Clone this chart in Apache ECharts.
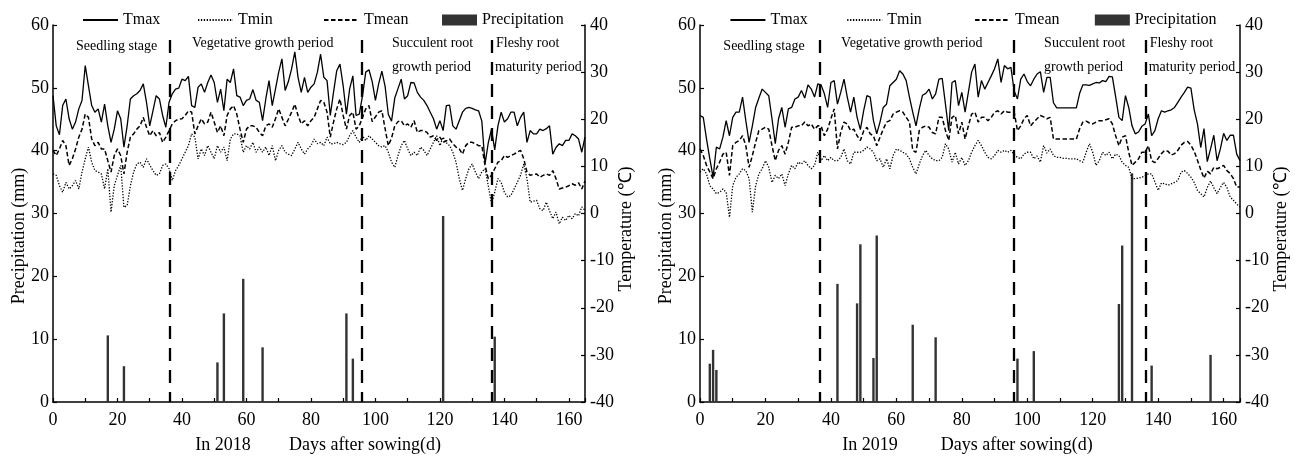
<!DOCTYPE html>
<html><head><meta charset="utf-8">
<script src="https://cdn.jsdelivr.net/npm/echarts@6/dist/echarts.min.js"></script>
<style>html,body{margin:0;padding:0;background:#fff}#c{width:1301px;height:458px}</style>
</head><body><div id="c"></div>
<script>
// ---------- data ----------
const tmax2018 = [25.0,18.6,16.7,22.9,24.3,20.1,17.9,19.4,22.2,24.0,31.4,27.1,22.9,21.5,22.2,19.4,23.2,18.6,15.1,17.9,21.8,20.1,14.1,18.6,24.3,25.0,25.4,26.1,27.5,23.6,18.6,21.8,25.0,24.3,20.8,18.3,23.6,25.4,26.4,26.6,28.5,28.2,29.1,22.9,22.5,26.8,27.5,25.7,27.8,29.4,27.8,23.6,26.4,21.8,
 28.5,27.8,30.7,25.0,24.7,22.9,24.0,24.3,26.3,24.0,23.6,19.7,24.3,28.2,22.9,26.4,30.0,32.8,26.1,28.0,30.7,34.3,28.9,25.7,28.9,25.7,26.8,27.5,30.0,33.8,28.9,28.2,20.8,25.7,30.3,31.7,27.1,21.1,26.4,29.2,
 20.8,21.1,25.0,30.0,30.5,28.0,24.0,27.5,30.2,27.0,21.0,19.6,24.5,26.5,28.5,
 24.3,25.0,27.8,27.7,25.7,24.7,24.0,22.9,21.5,20.1,17.9,19.7,17.6,22.9,23.0,18.6,17.9,19.7,21.5,22.3,22.5,22.3,22.0,21.8,19.6,10.5,15.0,17.9,13.5,18.6,21.5,19.4,20.1,21.5,21.5,18.6,20.4,21.5,15.1,17.6,16.9,16.9,17.9,17.6,18.0,18.6,12.6,14.0,14.8,14.4,15.5,15.5,16.9,16.5,15.8,13.0,16.2];
const tmean2018 = [13.4,12.3,13.7,15.5,14.4,10.2,11.6,13.7,16.2,17.9,21.1,20.4,15.8,14.4,15.1,13.7,13.7,11.2,8.8,12.3,13.7,12.3,8.4,13.0,16.2,16.9,17.9,18.6,20.4,18.3,16.5,17.6,16.5,17.2,15.1,16.2,17.6,19.0,19.7,20.0,20.1,20.8,21.8,21.5,16.9,18.6,20.1,19.0,19.4,21.5,19.4,17.2,18.6,16.5,
 20.8,22.2,22.9,21.1,17.9,15.1,17.9,18.6,18.6,18.3,17.2,16.5,18.6,19.0,18.3,20.1,22.2,20.4,18.6,20.0,21.5,23.2,20.8,19.0,19.7,18.6,19.7,20.4,22.2,24.0,23.6,21.5,16.2,19.4,22.2,24.3,20.8,17.9,20.8,21.5,17.9,18.6,20.4,22.2,22.9,19.5,20.5,21.5,21.8,18.0,14.4,16.0,18.6,19.5,19.7,
 18.6,19.0,18.3,19.7,17.2,17.6,17.6,17.2,16.2,16.5,15.5,16.2,15.1,15.4,15.8,14.8,14.1,13.7,12.6,14.4,15.1,15.1,14.8,14.4,14.4,10.2,7.4,8.1,9.5,10.9,11.2,12.3,11.9,12.3,12.6,13.0,13.4,11.6,8.8,8.1,8.3,8.4,7.7,8.1,8.4,8.1,9.1,7.4,5.2,5.4,5.6,5.9,6.3,6.0,6.5,5.2,6.9];
const tmin2018 = [8.4,8.1,5.9,4.5,6.6,5.2,5.9,7.0,5.2,8.8,
 11.6,14.1,10.9,9.1,8.8,8.4,5.2,9.5,0.3,5.9,
 8.1,10.2,1.3,1.7,5.9,8.8,10.5,10.9,9.8,11.6,
 10.3,9.1,8.1,8.4,10.2,10.5,9.5,7.0,9.1,10.2,
 11.6,13.0,14.4,16.9,16.2,11.6,13.7,12.3,14.4,13.0,
 11.6,14.4,13.0,14.1,11.2,15.8,16.9,16.9,16.5,13.0,
 14.4,13.7,15.1,13.0,14.1,13.0,14.1,12.3,14.4,11.2,
 13.4,14.4,13.0,12.6,12.3,13.7,15.1,13.7,12.6,13.7,
 14.4,15.8,14.8,15.1,14.4,16.2,14.8,14.8,15.1,14.8,
 14.6,15.1,16.5,17.6,16.2,15.1,16.5,15.5,16.5,15.8,
 15.1,14.4,14.1,14.4,13.0,10.9,9.8,12.3,14.4,
 15.5,13.7,12.3,13.0,12.3,14.1,13.4,12.3,13.7,15.1,
 16.5,14.4,16.2,15.0,14.4,13.0,10.9,7.4,4.9,7.4,
 9.5,10.5,8.8,7.4,8.8,9.5,5.9,2.1,4.5,7.4,
 6.6,4.5,3.5,3.8,5.2,6.6,8.1,10.5,7.4,2.4,
 2.6,2.8,1.0,0.6,2.4,0.6,-1.1,0.3,-2.2,-0.8,
 -1.5,-0.4,-1.1,0.0,-0.5,1.4,0.7];
const precipDays2018 = [17,22,51,53,59,65,91,93,121,137];
const precip2018 = [10.6,5.7,6.3,14.1,19.6,8.7,14.1,6.9,29.6,10.4];

const tmax2019 = [20.8,20.4,15.8,11.6,7.7,14.1,13.7,16.2,19.7,16.5,
 20.4,21.5,21.5,24.7,19.7,15.1,18.6,22.5,24.5,26.4,
 25.7,25.0,20.1,14.8,20.1,22.5,18.3,22.2,22.5,24.3,
 24.7,26.1,24.5,27.3,26.4,24.7,27.5,27.3,25.4,22.5,
 27.8,28.2,23.2,25.7,28.5,24.7,21.5,24.7,20.4,
 17.8,21.8,25.0,24.7,19.7,16.9,19.4,22.5,23.2,27.1,27.8,
 28.5,30.3,29.6,28.2,24.7,21.5,18.6,22.2,25.1,25.5,
 26.4,24.3,25.4,28.5,28.7,23.2,17.6,27.8,28.2,22.9,
 25.7,21.5,25.7,30.0,31.7,24.7,28.2,26.4,27.8,29.2,
 30.7,32.8,27.8,31.4,30.7,31.0,26.0,24.3,28.5,29.6,28.0,
 27.1,28.5,29.6,30.1,25.7,28.9,28.9,23.5,22.4,22.4,
 22.4,22.4,22.4,22.4,22.4,25.5,27.3,27.3,27.2,27.5,
 27.8,27.7,28.2,28.0,29.1,29.0,24.8,20.4,19.7,25.0,
 22.5,18.6,16.9,17.3,18.5,19.0,21.1,16.5,17.6,20.1,
 21.8,21.5,21.8,22.0,22.5,23.6,24.7,25.7,26.8,26.6,
 22.0,19.0,14.0,18.0,11.0,13.7,16.6,11.2,13.7,17.0,
 15.5,16.6,16.6,12.6,11.2];
const tmean2019 = [13.7,12.3,10.2,8.8,7.4,9.5,10.9,12.6,13.0,8.1,
 14.4,15.1,15.5,16.5,14.4,9.8,12.3,15.1,17.6,17.9,
 18.3,17.9,14.4,11.2,13.4,14.4,12.6,15.1,18.3,18.3,
 18.6,18.6,19.4,18.6,19.0,17.9,18.6,18.6,16.5,17.9,
 20.1,22.2,13.7,17.2,19.4,19.0,17.6,17.9,16.5,
 15.5,17.5,18.3,16.9,16.5,14.4,16.2,17.9,19.4,19.7,21.1,
 21.5,21.8,21.5,20.4,19.4,13.4,13.0,17.6,18.3,18.6,
 18.3,17.2,16.9,20.4,20.4,17.6,15.5,20.4,20.8,16.9,
 19.4,15.8,18.6,21.1,21.5,19.4,20.4,20.4,19.7,20.4,
 21.5,21.8,21.1,21.8,21.5,21.5,21.5,17.6,18.6,20.1,20.8,
 18.6,19.4,20.1,20.8,20.5,20.1,20.4,15.8,15.8,15.8,
 15.8,15.8,15.8,15.8,15.8,18.0,19.4,19.6,19.2,19.0,
 19.4,19.7,19.7,19.9,20.1,19.0,16.5,14.4,16.2,16.5,
 13.0,10.2,10.9,11.6,13.0,13.0,14.4,11.2,10.8,11.7,
 12.7,13.4,13.2,12.4,12.7,13.4,14.5,15.1,15.3,14.5,
 13.2,11.3,9.3,7.5,9.0,8.4,9.8,9.5,9.8,10.2,
 9.1,8.5,7.4,5.6,5.6];
const tmin2019 = [8.8,9.5,8.4,5.9,5.2,4.2,4.5,5.2,4.5,-0.8,
 5.9,7.7,8.4,9.5,9.1,7.4,0.3,5.9,8.4,9.5,
 11.2,9.8,6.6,8.1,7.4,8.4,5.9,8.4,10.2,9.5,
 10.9,10.5,11.2,10.2,9.5,10.2,13.0,11.2,12.3,11.2,
 11.9,11.2,11.2,11.9,13.7,11.2,10.5,13.0,13.0,
 13.0,13.4,14.1,13.7,13.0,11.2,11.6,9.8,11.6,9.5,12.3,
 13.7,13.4,13.0,12.6,11.6,9.8,8.4,10.5,12.3,13.4,
 12.3,11.6,11.2,11.2,11.9,14.8,13.7,10.9,13.0,10.5,
 11.9,10.2,11.2,13.0,14.4,15.5,14.4,13.0,11.9,11.6,
 12.3,13.4,13.0,13.4,13.0,13.4,12.5,11.9,11.6,12.6,13.0,
 13.0,11.6,12.2,10.9,14.4,12.8,13.7,12.3,11.9,11.9,
 11.7,11.7,11.6,11.6,11.6,11.2,10.9,13.0,14.8,13.0,
 10.2,11.2,13.0,12.3,13.0,11.6,12.6,12.3,10.9,10.2,
 9.8,7.4,7.4,7.5,7.7,8.0,8.4,8.4,6.7,4.9,
 6.5,6.3,6.0,6.3,6.6,7.0,8.8,9.1,8.5,7.7,
 6.6,4.9,4.2,3.5,5.5,6.9,5.5,4.2,5.5,6.6,
 5.5,3.5,2.8,2.0,1.4];
const precipDays2019 = [3,4,5,42,48,49,53,54,65,72,97,102,128,129,132,138,156];
const precip2019 = [6.1,8.3,5.1,18.8,15.7,25.1,7.0,26.5,12.3,10.3,6.9,8.1,15.6,24.9,36.4,5.8,7.5];

const stageBounds2018 = [36.3, 95.9, 136.1];
const stageBounds2019 = [36.5, 96.0, 136.1];
const years = ['2018', '2019'];
const xTicks = [0, 20, 40, 60, 80, 100, 120, 140, 160];
const seriesNames = ['Tmax', 'Tmin', 'Tmean', 'Precipitation'];
const stageLabels = ['Seedling stage', 'Vegetative growth period', 'Succulent root', 'growth period', 'Fleshy root', 'maturity period'];

// ---------- build chart ----------
const FONT = '"Liberation Serif","Times New Roman",serif';
const panels = [
  {tmax: tmax2018, tmin: tmin2018, tmean: tmean2018, pd: precipDays2018, pv: precip2018, st: stageBounds2018},
  {tmax: tmax2019, tmin: tmin2019, tmean: tmean2019, pd: precipDays2019, pv: precip2019, st: stageBounds2019}
];
const gridL = [53, 700], gridW = [532, 540];
const pair = arr => arr.map((v, i) => [i, v]);

const grid = [], xAxis = [], yAxis = [], series = [], legend = [], graphic = [];
panels.forEach((p, k) => {
  grid.push({left: gridL[k], width: gridW[k], top: 25, bottom: 56});
  xAxis.push({
    gridIndex: k, type: 'value', min: 0, max: 165, interval: 10,
    axisLine: {lineStyle: {color: '#000', width: 1.5}},
    axisTick: {inside: true, length: 4, lineStyle: {color: '#000', width: 1.2}},
    axisLabel: {color: '#000', fontFamily: FONT, fontSize: 18, margin: 9,
      formatter: v => xTicks.indexOf(v) >= 0 ? String(v) : ''},
    splitLine: {show: false}
  });
  yAxis.push({
    gridIndex: k, type: 'value', min: 0, max: 60, interval: 10, position: 'left',
    axisLine: {show: true, lineStyle: {color: '#000', width: 1.5}},
    axisTick: {show: true, inside: true, length: 4, lineStyle: {color: '#000', width: 1.2}},
    axisLabel: {color: '#000', fontFamily: FONT, fontSize: 18, margin: 4},
    splitLine: {show: false}
  });
  yAxis.push({
    gridIndex: k, type: 'value', min: -40, max: 40, interval: 10, position: 'right',
    axisLine: {show: true, lineStyle: {color: '#000', width: 1.5}},
    axisTick: {show: true, inside: true, length: 4, lineStyle: {color: '#000', width: 1.2}},
    axisLabel: {color: '#000', fontFamily: FONT, fontSize: 18, margin: 5},
    splitLine: {show: false}
  });
  series.push({
    name: 'Precipitation', type: 'bar', xAxisIndex: k, yAxisIndex: 2 * k,
    data: p.pd.map((d, i) => [d, p.pv[i]]), barWidth: 2.4,
    itemStyle: {color: '#333'}, z: 1,
    markLine: {
      silent: true, symbol: ['none', 'none'], label: {show: false},
      lineStyle: {color: '#000', width: 2.3, type: [13, 9]},
      data: p.st.map(b => [{coord: [b, 57.6]}, {coord: [b, 0]}])
    }
  });
  const lines = [
    {name: 'Tmax', data: p.tmax, ls: {type: 'solid', width: 1.3}},
    {name: 'Tmin', data: p.tmin, ls: {type: [1.3, 1.6], width: 1.3}},
    {name: 'Tmean', data: p.tmean, ls: {type: [4.5, 2.5], width: 1.5}}
  ];
  lines.forEach(l => series.push({
    name: l.name, type: 'line', xAxisIndex: k, yAxisIndex: 2 * k + 1,
    data: pair(l.data), symbol: 'none', z: 3,
    lineStyle: Object.assign({color: '#000'}, l.ls), itemStyle: {color: '#000'}
  }));
  const sc = gridW[k] / gridW[0];
  const X = rel => gridL[k] + rel * sc;
  const legX = [29, 144, 270, 389];
  seriesNames.forEach((n, i) => {
    const isBar = n === 'Precipitation';
    const lg = {
      data: [isBar ? {name: n, icon: 'rect'} : {name: n}],
      left: X(legX[i]), top: 12, itemWidth: 35, itemHeight: isBar ? 11 : 14,
      itemGap: 0, selectedMode: false, padding: 0,
      textStyle: {color: '#000', fontFamily: FONT, fontSize: 16}
    };
    if (!isBar) lg.itemStyle = {opacity: 0};
    legend.push(lg);
  });
  const stPos = [[23, 46], [139, 43], [339, 43], [339, 67], [443, 43], [442, 67]];
  stageLabels.forEach((t, i) => graphic.push({
    type: 'text', x: X(stPos[i][0]), y: stPos[i][1], silent: true,
    style: {text: t, font: '14px ' + FONT, fill: '#000', textAlign: 'left', verticalAlign: 'middle'}
  }));
  graphic.push({type: 'text', x: gridL[k] - 34, y: 236, rotation: Math.PI / 2, silent: true,
    style: {text: 'Precipitation (mm)', font: '18px ' + FONT, fill: '#000', textAlign: 'center', verticalAlign: 'middle'}});
  graphic.push({type: 'text', x: gridL[k] + gridW[k] + 41, y: 229, rotation: Math.PI / 2, silent: true,
    style: {text: 'Temperature (℃)', font: '18px ' + FONT, fill: '#000', textAlign: 'center', verticalAlign: 'middle'}});
  graphic.push({type: 'text', x: gridL[k] + 170, y: 445, silent: true,
    style: {text: 'In ' + years[k], font: '18px ' + FONT, fill: '#000', textAlign: 'center', verticalAlign: 'middle'}});
  graphic.push({type: 'text', x: gridL[k] + 312 * sc, y: 445, silent: true,
    style: {text: 'Days after sowing(d)', font: '18px ' + FONT, fill: '#000', textAlign: 'center', verticalAlign: 'middle'}});
});

const chart = echarts.init(document.getElementById('c'), null, {renderer: 'canvas'});
chart.setOption({animation: false, backgroundColor: '#fff', grid, xAxis, yAxis, series, legend, graphic});
</script></body></html>
